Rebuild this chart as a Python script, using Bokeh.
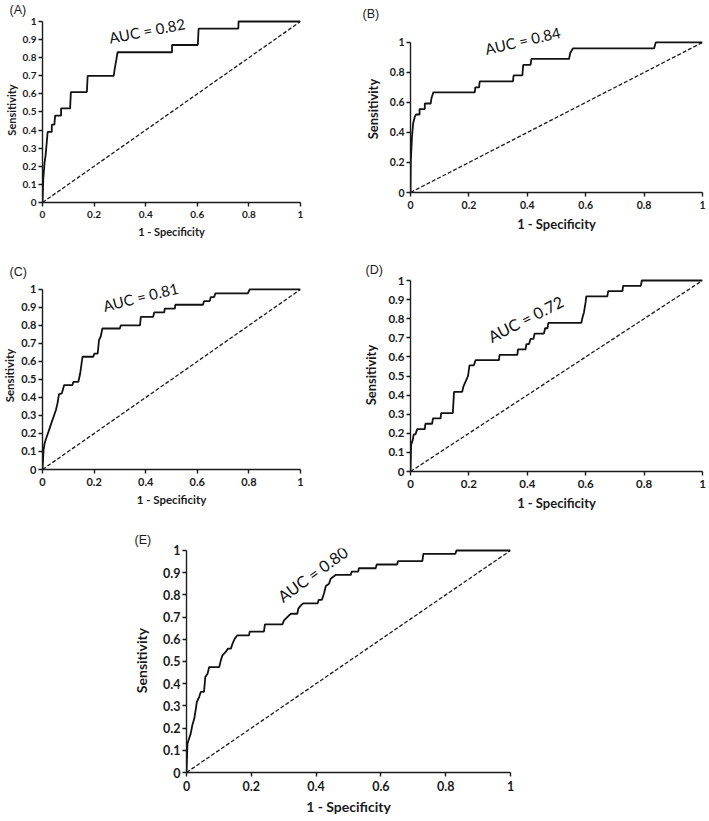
import math
from bokeh.plotting import figure
from bokeh.layouts import column, row
from bokeh.models import Spacer, Label, Range1d, FixedTicker, NumeralTickFormatter, Title
from bokeh.embed import file_html
from bokeh.resources import INLINE

# ---------------- data ----------------
x_ticks = [0, 0.2, 0.4, 0.6, 0.8, 1]
y_ticks_fine = [0, 0.1, 0.2, 0.3, 0.4, 0.5, 0.6, 0.7, 0.8, 0.9, 1]
y_ticks_coarse = [0, 0.2, 0.4, 0.6, 0.8, 1]
diag_x = [0, 1]
diag_y = [0, 1]

a_fpr = [0, 0.003, 0.008, 0.012, 0.02, 0.036, 0.036, 0.046, 0.049, 0.072, 0.072, 0.107, 0.11,
         0.172, 0.175, 0.276, 0.28, 0.285, 0.291, 0.502, 0.502, 0.602, 0.605, 0.759, 0.76, 1]
a_tpr = [0, 0.13, 0.22, 0.26, 0.39, 0.39, 0.43, 0.43, 0.48, 0.48, 0.52, 0.52, 0.61,
         0.61, 0.70, 0.70, 0.74, 0.78, 0.83, 0.83, 0.87, 0.87, 0.96, 0.96, 1.0, 1.0]

b_fpr = [0, 0.001, 0.005, 0.009, 0.014, 0.019, 0.031, 0.031, 0.049, 0.049, 0.069, 0.072, 0.078,
         0.22, 0.222, 0.235, 0.237, 0.351, 0.353, 0.383, 0.386, 0.411, 0.414, 0.543, 0.547,
         0.556, 0.834, 0.84, 1]
b_tpr = [0, 0.21, 0.37, 0.46, 0.50, 0.52, 0.52, 0.556, 0.556, 0.593, 0.593, 0.63, 0.667,
         0.667, 0.70, 0.70, 0.74, 0.74, 0.78, 0.78, 0.85, 0.85, 0.89, 0.89, 0.93,
         0.96, 0.96, 1.0, 1.0]

c_fpr = [0, 0.004, 0.008, 0.014, 0.023, 0.034, 0.043, 0.052, 0.058, 0.064, 0.075, 0.084, 0.116,
         0.12, 0.139, 0.146, 0.155, 0.197, 0.201, 0.214, 0.219, 0.226, 0.232, 0.30, 0.303,
         0.378, 0.381, 0.429, 0.433, 0.472, 0.474, 0.513, 0.515, 0.622, 0.626, 0.648, 0.652,
         0.665, 0.67, 0.796, 0.803, 1]
c_tpr = [0, 0.107, 0.144, 0.172, 0.209, 0.256, 0.293, 0.33, 0.367, 0.419, 0.423, 0.469, 0.469,
         0.487, 0.487, 0.533, 0.626, 0.626, 0.644, 0.644, 0.719, 0.74, 0.783, 0.783, 0.80,
         0.80, 0.848, 0.848, 0.872, 0.872, 0.893, 0.893, 0.915, 0.915, 0.935, 0.935, 0.957,
         0.957, 0.978, 0.978, 1.0, 1.0]

d_fpr = [0, 0.002, 0.008, 0.011, 0.017, 0.023, 0.049, 0.051, 0.074, 0.077, 0.103, 0.105, 0.145,
         0.149, 0.177, 0.181, 0.189, 0.197, 0.202, 0.217, 0.223, 0.303, 0.305, 0.366, 0.368,
         0.394, 0.397, 0.406, 0.411, 0.421, 0.425, 0.457, 0.461, 0.469, 0.472, 0.585, 0.589,
         0.594, 0.60, 0.602, 0.674, 0.677, 0.726, 0.728, 0.789, 0.792, 1]
d_tpr = [0, 0.139, 0.167, 0.194, 0.194, 0.222, 0.222, 0.25, 0.25, 0.278, 0.278, 0.306, 0.306,
         0.417, 0.417, 0.444, 0.472, 0.50, 0.556, 0.556, 0.583, 0.583, 0.611, 0.611, 0.639,
         0.639, 0.667, 0.667, 0.694, 0.694, 0.722, 0.722, 0.75, 0.75, 0.778, 0.778, 0.806,
         0.833, 0.889, 0.917, 0.917, 0.944, 0.944, 0.972, 0.972, 1.0, 1.0]

e_fpr = [0, 0.003, 0.008, 0.013, 0.018, 0.024, 0.029, 0.032, 0.039, 0.044, 0.054, 0.058, 0.065,
         0.07, 0.101, 0.106, 0.111, 0.121, 0.128, 0.137, 0.142, 0.149, 0.157, 0.193, 0.195,
         0.239, 0.242, 0.296, 0.301, 0.311, 0.322, 0.342, 0.345, 0.353, 0.36, 0.405, 0.408,
         0.418, 0.425, 0.43, 0.44, 0.445, 0.46, 0.507, 0.51, 0.53, 0.532, 0.584, 0.587, 0.65,
         0.653, 0.728, 0.731, 0.83, 0.833, 1]
e_tpr = [0, 0.13, 0.153, 0.175, 0.213, 0.243, 0.288, 0.318, 0.34, 0.363, 0.363, 0.43, 0.445,
         0.475, 0.475, 0.505, 0.528, 0.543, 0.558, 0.558, 0.58, 0.603, 0.618, 0.618, 0.635,
         0.635, 0.667, 0.667, 0.685, 0.70, 0.715, 0.715, 0.738, 0.753, 0.762, 0.762, 0.778,
         0.778, 0.81, 0.84, 0.85, 0.873, 0.89, 0.89, 0.905, 0.905, 0.92, 0.92, 0.937, 0.937,
         0.952, 0.952, 0.985, 0.985, 1.0, 1.0]

auc_texts = ["AUC = 0.82", "AUC = 0.84", "AUC = 0.81", "AUC = 0.72", "AUC = 0.80"]
panel_tags = ["(A)", "(B)", "(C)", "(D)", "(E)"]
x_title = "1 - Specificity"
y_title = "Sensitivity"

FONT = "Lato"
INK = "#1a1a1a"


def panel(fpr, tpr, yticks, w, h, left, right, top, bottom, y_end,
          tick_fs, title_fs, ytitle_standoff,
          auc, auc_x, auc_y, auc_angle, auc_fs,
          tag, tag_offset, tag_standoff):
    p = figure(width=w, height=h, min_border_left=left, min_border_right=right,
               min_border_top=top, min_border_bottom=bottom,
               x_range=Range1d(0, 1), y_range=Range1d(0, y_end),
               output_backend="svg", toolbar_location=None,
               outline_line_color=None, background_fill_color="white",
               border_fill_color="white")
    p.grid.visible = False
    for ax in (p.xaxis[0], p.yaxis[0]):
        ax.axis_line_color = INK
        ax.axis_line_width = 1.4
        ax.major_tick_line_color = INK
        ax.major_tick_line_width = 1.4
        ax.major_tick_in = 0
        ax.minor_tick_line_color = None
        ax.major_label_text_font = FONT
        ax.major_label_text_font_style = "bold"
        ax.major_label_text_font_size = f"{tick_fs}px"
        ax.major_label_text_color = INK
        ax.formatter = NumeralTickFormatter(format="0.[0]")
        ax.axis_label_text_font = FONT
        ax.axis_label_text_font_style = "bold"
        ax.axis_label_text_font_size = f"{title_fs}px"
        ax.axis_label_text_color = INK
    p.xaxis.ticker = FixedTicker(ticks=x_ticks)
    p.yaxis.ticker = FixedTicker(ticks=yticks)
    p.yaxis.bounds = (0, 1)
    p.xaxis.major_tick_out = 4
    p.yaxis.major_tick_out = 4
    p.xaxis.major_label_standoff = 4
    p.yaxis.major_label_standoff = 2
    p.xaxis.axis_label = x_title
    p.xaxis.axis_label_standoff = 4
    p.yaxis.axis_label = y_title
    p.yaxis.axis_label_standoff = ytitle_standoff

    p.line(diag_x, diag_y, line_color=INK, line_width=1.3, line_dash="4 2")
    p.line(fpr, tpr, line_color="#111111", line_width=1.8)

    p.add_layout(Label(x=auc_x, y=auc_y, text=auc, angle=math.radians(auc_angle),
                       text_align="center", text_baseline="middle",
                       text_font=FONT, text_font_size=f"{auc_fs}px", text_color="#111111"))
    p.add_layout(Title(text=tag, align="left", offset=tag_offset, standoff=tag_standoff,
                       text_font="Liberation Sans", text_font_size="12.5px",
                       text_font_style="normal", text_color=INK), "above")
    return p


# column 1 (A over C), column 2 (B over D), then E centred below
pA = panel(a_fpr, a_tpr, y_ticks_fine, 341, 245, 38, 41, 17, 43, 1.022,
           10, 11, 2,
           auc_texts[0], 0.405, 0.95, 11, 15, panel_tags[0], -33, 1)
pC = panel(c_fpr, c_tpr, y_ticks_fine, 341, 275, 38, 41, 36, 51, 1.044,
           11, 11.5, 2,
           auc_texts[2], 0.38, 0.959, 14, 15, panel_tags[2], -33, 5)
pB = panel(b_fpr, b_tpr, y_ticks_coarse, 368, 245, 69, 7, 25, 53, 1.113,
           10.5, 13, 6,
           auc_texts[1], 0.384, 1.013, 13, 15, panel_tags[1], -48, 9)
pD = panel(d_fpr, d_tpr, y_ticks_fine, 368, 275, 69, 7, 33, 49, 1.0105,
           11.5, 13, 6,
           auc_texts[3], 0.394, 0.80, 27, 16, panel_tags[3], -45, 3)
pE = panel(e_fpr, e_tpr, y_ticks_fine, 430, 301, 56, 50, 28, 49, 1.009,
           12.5, 14, 10,
           auc_texts[4], 0.389, 0.895, 36, 16, panel_tags[4], -52, 3)

layout = column(row(column(pA, pC), column(pB, pD)),
                row(Spacer(width=130, height=301), pE))

open("out.html", "w").write(file_html(layout, INLINE))
